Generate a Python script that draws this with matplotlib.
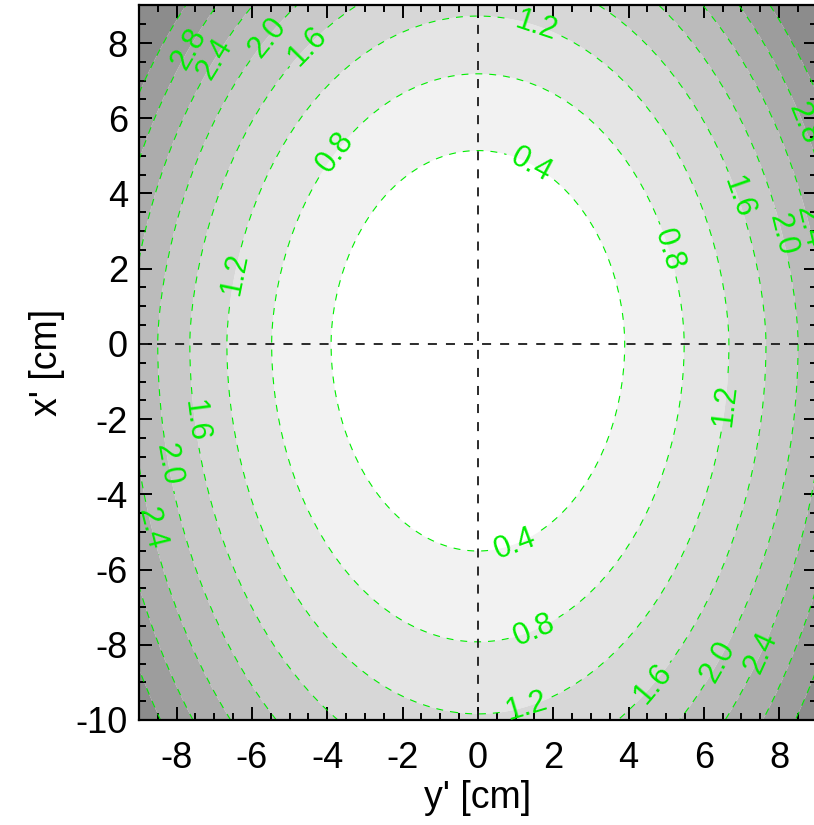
import numpy as np
import matplotlib
matplotlib.use("Agg")
import matplotlib.pyplot as plt
from matplotlib.ticker import MultipleLocator

plt.rcParams['font.family'] = ['Liberation Sans', 'DejaVu Sans']
plt.rcParams['axes.unicode_minus'] = False
plt.rcParams['lines.scale_dashes'] = False

# contour levels and the gray of each filled band (below first level ... above last)
levels = [0.4, 0.8, 1.2, 1.6, 2.0, 2.4, 2.8, 3.2]
labelled_levels = [0.4, 0.8, 1.2, 1.6, 2.0, 2.4, 2.8]
band_grays = [255, 242, 229, 215, 201, 187, 172, 157, 140]

# map coefficients: terms in y'^2, y'^4, x'^2, x'^3 and an upper-half y'^2 x' term
coef_y2, coef_y4 = 0.02596, 2.36e-5
coef_x2, coef_x3 = 0.0142, 1.83e-4
coef_upper = 5.5e-4

# label anchor points (y', x') for the contour labels
label_points = [
    (1.5, 4.9), (1.0, -5.4),
    (-3.8, 5.1), (5.1, 2.5), (1.5, -7.6),
    (1.6, 8.6), (-6.6, 1.9), (6.4, -1.6), (1.3, -9.7),
    (-4.6, 8.0), (6.9, 3.9), (-7.5, -2.05), (4.56, -8.96),
    (-5.6, 8.14), (8.1, 2.9), (-8.2, -3.2), (6.37, -8.43),
    (-7.1, 7.66), (8.75, 3.1), (-8.65, -4.9), (7.56, -8.22),
    (-7.7, 7.85), (8.65, 5.85),
]

yp = np.linspace(-9, 9, 451)
xp = np.linspace(-10, 9, 476)
Y, X = np.meshgrid(yp, xp)
Xpos = np.clip(X, 0, None)
Z = (coef_y2 * Y**2 + coef_y4 * Y**4 + coef_x2 * X**2 + coef_x3 * X**3
     + coef_upper * Y**2 * Xpos**2 / (1 + Xpos))

fig = plt.figure(figsize=(8.14, 8.25), dpi=100)
ax = fig.add_axes([139 / 814, 1 - 720 / 825, (816.8 - 139) / 814, (720 - 5.4) / 825])

fill_levels = [Z.min() - 1] + levels + [Z.max() + 1]
fill_colors = ['#{0:02x}{0:02x}{0:02x}'.format(g) for g in band_grays]
ax.contourf(Y, X, Z, levels=fill_levels, colors=fill_colors, antialiased=True)

green = '#00ee00'
cs = ax.contour(Y, X, Z, levels=levels, colors=green, linewidths=0.8,
                linestyles=[(0, (5, 5))])
ax.clabel(cs, levels=labelled_levels, fmt='%.1f', fontsize=22, colors=green,
          inline=True, inline_spacing=6, manual=label_points)

ax.axhline(0, color='#1a1a1a', lw=1.3, ls=(0, (6.5, 6.5)))
ax.axvline(0, color='#1a1a1a', lw=1.3, ls=(0, (6.5, 6.5)))

ax.set_xlim(-9, 9)
ax.set_ylim(-10, 9)
ax.xaxis.set_major_locator(MultipleLocator(2))
ax.xaxis.set_minor_locator(MultipleLocator(0.5))
ax.yaxis.set_major_locator(MultipleLocator(2))
ax.yaxis.set_minor_locator(MultipleLocator(0.5))
ax.tick_params(which='both', direction='in', top=True, right=True,
               width=1.4, colors='black')
ax.tick_params(which='major', length=9.5)
ax.tick_params(which='minor', length=5)
ax.tick_params(axis='x', which='major', labelsize=26, pad=15)
ax.tick_params(axis='y', which='major', labelsize=26, pad=8)
for sp in ax.spines.values():
    sp.set_linewidth(1.6)

ax.set_xlabel("y' [cm]", fontsize=27, labelpad=3)
ax.set_ylabel("x' [cm]", fontsize=27, labelpad=8)

fig.savefig('out.png', dpi=100)
